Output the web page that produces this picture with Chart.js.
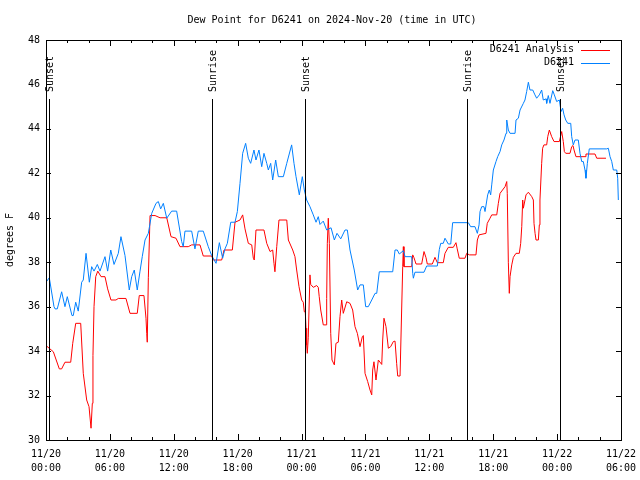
<!DOCTYPE html>
<html>
<head>
<meta charset="utf-8">
<script src="https://cdn.jsdelivr.net/npm/chart.js@4/dist/chart.umd.min.js"></script>
<style>
html,body{margin:0;padding:0;background:#fff;}
#wrap{width:640px;height:480px;}
</style>
</head>
<body>
<div id="wrap"><canvas id="c" width="640" height="480"></canvas></div>
<script>
// ---- data (hours since 11/20 00:00 UTC, degrees F) ----
const titleText = "Dew Point for D6241 on 2024-Nov-20 (time in UTC)";
const yAxisLabel = "degrees F";
const seriesNames = ["D6241 Analysis", "D6241"];

const xTickDates = ["11/20","11/20","11/20","11/20","11/21","11/21","11/21","11/21","11/22","11/22"];
const xTickTimes = ["00:00","06:00","12:00","18:00","00:00","06:00","12:00","18:00","00:00","06:00"];

const sunHours  = [0.28, 15.56, 24.35, 39.57, 48.27];
const sunLabels = ["Sunset","Sunrise","Sunset","Sunrise","Sunset"];

const analysisHours = [0.0,0.69,1.25,1.47,1.78,2.32,2.51,2.79,3.26,3.5,3.82,4.04,4.23,4.35,4.41,4.51,4.67,4.86,5.17,5.54,5.79,6.1,6.57,6.79,7.51,7.89,8.57,8.76,9.2,9.39,9.46,9.51,9.61,9.77,10.24,10.71,11.34,11.74,12.21,12.58,13.36,13.68,14.46,14.77,15.56,15.71,16.5,16.72,17.5,17.75,18.22,18.47,18.69,19.0,19.32,19.47,19.56,19.72,20.47,20.73,21.04,21.29,21.41,21.5,21.67,21.88,22.61,22.76,23.17,23.38,23.54,23.76,24.01,24.16,24.26,24.35,24.42,24.48,24.54,24.63,24.79,24.86,25.1,25.42,25.57,25.66,25.8,26.04,26.3,26.36,26.42,26.51,26.61,26.74,26.86,27.08,27.23,27.45,27.61,27.77,27.92,28.24,28.55,28.8,29.02,29.24,29.49,29.71,29.8,29.96,30.21,30.43,30.59,30.68,30.8,30.99,31.21,31.53,31.62,31.74,31.93,32.15,32.37,32.62,32.78,32.93,33.03,33.25,33.4,33.5,33.56,33.62,34.34,34.44,34.56,34.75,35.28,35.5,35.69,35.81,36.28,36.53,36.75,37.31,37.47,37.78,38.25,38.5,38.62,38.81,39.35,39.51,39.76,40.38,40.51,40.67,41.32,41.44,41.7,41.86,42.33,42.48,42.64,43.11,43.27,43.32,43.42,43.51,43.58,43.74,43.89,44.14,44.45,44.58,44.68,44.77,44.83,45.08,45.3,45.62,45.77,45.83,45.93,46.02,46.24,46.33,46.39,46.55,46.64,46.76,47.02,47.12,47.27,47.49,47.71,48.21,48.43,48.58,48.68,48.81,49.21,49.37,49.49,49.59,49.77,50.62,50.71,51.56,51.72,52.59];
const analysisValues = [34.25,33.97,33.2,33.2,33.5,33.5,34.35,35.25,35.25,33.0,31.8,31.5,30.53,31.65,33.8,36.0,37.35,37.6,37.35,37.35,36.8,36.3,36.3,36.37,36.37,35.7,35.7,36.5,36.5,35.48,34.8,34.4,37.3,40.1,40.1,40.0,40.0,39.15,39.08,38.7,38.7,38.78,38.78,38.28,38.28,38.1,38.1,38.55,38.55,39.8,39.9,40.13,39.5,38.85,38.78,38.18,38.1,39.45,39.45,38.85,38.48,38.55,37.95,37.57,38.7,39.9,39.9,39.0,38.55,38.25,37.65,36.9,36.3,36.2,35.77,35.77,35.03,34.28,33.9,34.6,37.43,37.0,36.87,36.95,36.87,36.45,35.85,35.18,35.18,36.37,38.85,39.98,38.85,34.8,33.6,33.38,34.35,34.4,35.55,36.3,35.7,36.22,36.15,35.85,35.1,34.8,34.2,34.65,34.7,33.0,32.63,32.25,32.03,33.15,33.52,32.7,33.6,33.4,34.5,35.48,35.1,34.13,34.2,34.43,34.45,33.45,32.88,32.88,35.85,37.8,38.7,37.8,37.8,38.33,38.2,37.92,37.92,38.48,38.2,37.92,37.92,38.22,37.98,37.98,38.4,38.67,38.67,38.88,38.6,38.18,38.18,38.4,38.33,38.33,39.0,39.23,39.3,39.75,39.98,40.13,40.13,40.65,41.1,41.4,41.63,41.1,38.0,36.6,37.35,37.88,38.22,38.4,38.4,38.85,39.6,40.8,40.43,41.03,41.15,40.95,40.8,39.75,39.3,39.0,39.0,39.68,40.8,42.45,43.13,43.28,43.28,43.65,43.95,43.65,43.43,43.43,43.88,43.43,42.98,42.9,42.9,43.2,43.25,43.05,42.75,42.75,42.87,42.87,42.68,42.68];

const stationHours = [0.0,0.31,0.75,0.85,1.06,1.47,1.78,2.0,2.44,2.56,2.79,3.03,3.35,3.5,3.76,4.07,4.29,4.51,4.82,5.07,5.54,5.79,6.08,6.39,6.79,7.04,7.42,7.82,8.05,8.29,8.57,8.83,9.04,9.3,9.61,9.93,10.33,10.55,10.77,11.02,11.34,11.8,12.27,12.74,12.89,13.05,13.68,13.99,14.3,14.77,15.24,15.56,15.97,16.28,16.59,16.81,17.03,17.35,17.75,17.97,18.22,18.47,18.75,19.0,19.22,19.53,19.72,20.0,20.26,20.47,20.73,20.88,21.1,21.29,21.57,21.82,22.29,22.61,23.07,23.29,23.48,23.79,24.07,24.26,24.48,24.79,25.1,25.36,25.57,25.73,26.04,26.36,26.77,27.08,27.33,27.68,28.08,28.3,28.55,28.95,29.27,29.49,29.8,30.02,30.27,30.59,30.9,31.06,31.3,32.56,32.78,32.99,33.18,33.56,33.72,34.34,34.44,34.5,34.65,35.5,35.75,36.75,36.94,37.07,37.31,37.47,37.78,38.01,38.19,39.66,39.88,40.29,40.51,40.67,40.76,40.92,41.13,41.23,41.48,41.63,41.76,41.86,42.01,42.26,42.42,42.64,42.8,43.01,43.2,43.27,43.42,43.58,44.05,44.14,44.36,44.52,44.83,44.98,45.14,45.3,45.45,45.71,45.92,46.08,46.33,46.55,46.7,46.96,47.02,47.17,47.33,47.59,47.74,47.96,48.21,48.37,48.52,48.65,48.81,49.0,49.28,49.37,49.52,49.68,49.99,50.15,50.31,50.46,50.62,50.71,50.84,51.02,52.66,52.81,52.97,53.13,53.28,53.6,53.69,53.75];
const stationValues = [37.1,37.3,36.0,35.9,35.9,36.67,36.0,36.45,35.6,35.6,36.2,35.8,37.1,37.2,38.4,37.1,37.8,37.6,37.9,37.6,38.25,37.6,38.55,37.9,38.4,39.15,38.3,36.75,37.35,37.65,36.75,37.6,38.25,39.0,39.3,40.2,40.65,40.73,40.4,40.65,39.98,40.3,40.3,38.93,38.7,39.4,39.4,38.6,39.4,39.4,38.7,38.3,37.95,38.88,38.18,38.6,38.85,39.8,39.8,40.28,41.55,42.9,43.35,42.68,42.45,43.05,42.6,43.05,42.3,42.9,42.45,42.15,42.45,41.7,42.6,41.85,41.85,42.45,43.28,42.45,41.85,41.03,41.85,41.25,40.8,40.5,40.13,39.8,40.05,39.7,39.85,39.45,39.55,39.0,39.3,39.05,39.45,39.45,38.55,37.65,36.75,36.98,36.98,36.0,36.0,36.3,36.6,36.6,37.57,37.57,38.55,38.55,38.37,38.52,38.25,38.25,37.5,37.28,37.55,37.55,37.83,37.83,38.58,38.85,38.85,39.08,38.82,38.82,39.78,39.78,39.6,39.6,39.3,39.68,40.28,40.5,40.5,40.28,41.03,41.25,41.03,41.48,42.15,42.53,42.75,42.98,43.28,43.5,43.8,44.4,43.95,43.8,43.8,44.4,44.48,44.85,45.15,45.3,45.68,46.1,45.75,45.75,45.53,45.38,45.53,45.75,45.3,45.35,45.15,45.5,45.15,45.72,45.53,45.23,45.3,44.78,44.93,44.63,44.4,44.25,44.25,43.65,43.28,43.5,43.5,42.9,42.53,42.53,42.15,41.78,42.45,43.1,43.1,43.13,42.75,42.53,42.15,42.15,41.78,40.8];

const colors = ["#ff0000", "#0080ff"];
const FONT = "DejaVu Sans Mono";

function toPoints(xs, ys){ return xs.map((x,i)=>({x:x, y:ys[i]})); }

const framePlugin = {
  id: 'frame',
  afterDatasetsDraw(chart){
    const ctx = chart.ctx, a = chart.chartArea;
    const xs = chart.scales.x, ys = chart.scales.y;
    ctx.save();
    // sun lines + labels
    ctx.strokeStyle = '#000'; ctx.lineWidth = 1;
    ctx.fillStyle = '#000';
    ctx.font = '10px "' + FONT + '"';
    sunHours.forEach((h,i)=>{
      const px = Math.round(xs.getPixelForValue(h)) + 0.5;
      ctx.beginPath(); ctx.moveTo(px, 99); ctx.lineTo(px, a.bottom); ctx.stroke();
      ctx.save();
      ctx.translate(px+1, 92);
      ctx.rotate(-Math.PI/2);
      ctx.textAlign = 'left'; ctx.textBaseline = 'middle';
      ctx.fillText(sunLabels[i], 0, 0);
      ctx.restore();
    });
    // border
    ctx.strokeStyle = '#000'; ctx.lineWidth = 1;
    ctx.strokeRect(Math.round(a.left)+0.5, Math.round(a.top)+0.5, Math.round(a.right-a.left), Math.round(a.bottom-a.top));
    // x ticks (major 6h, minor 2h), inward, top and bottom
    ctx.beginPath();
    for (let h = 0; h <= 54; h += 2){
      const px = Math.round(xs.getPixelForValue(h)) + 0.5;
      const len = (h % 6 === 0) ? 6 : 3;
      ctx.moveTo(px, a.bottom); ctx.lineTo(px, a.bottom - len);
      ctx.moveTo(px, a.top); ctx.lineTo(px, a.top + len);
    }
    for (let v = 30; v <= 48; v += 2){
      const py = Math.round(ys.getPixelForValue(v)) + 0.5;
      ctx.moveTo(a.left, py); ctx.lineTo(a.left + 5, py);
      ctx.moveTo(a.right, py); ctx.lineTo(a.right - 5, py);
    }
    ctx.stroke();
    // legend
    ctx.font = '10px "' + FONT + '"';
    ctx.textAlign = 'right'; ctx.textBaseline = 'middle';
    chart.data.datasets.forEach((ds,i)=>{
      const y = 49.5 + i*13;
      ctx.fillStyle = '#000';
      ctx.fillText(ds.label, 574, y);
      ctx.strokeStyle = ds.borderColor;
      ctx.beginPath(); ctx.moveTo(581, Math.round(y)+0.5); ctx.lineTo(610, Math.round(y)+0.5); ctx.stroke();
    });
    // title
    ctx.fillStyle = '#000';
    ctx.textAlign = 'center'; ctx.textBaseline = 'middle';
    ctx.fillText(titleText, 332, 20);
    ctx.restore();
  }
};

new Chart(document.getElementById('c'), {
  type: 'line',
  data: {
    datasets: [
      { label: seriesNames[0], data: toPoints(analysisHours, analysisValues), borderColor: colors[0], borderWidth: 1, pointRadius: 0, tension: 0, fill: false, order: 2 },
      { label: seriesNames[1], data: toPoints(stationHours, stationValues), borderColor: colors[1], borderWidth: 1, pointRadius: 0, tension: 0, fill: false, order: 1 }
    ]
  },
  options: {
    responsive: false,
    animation: false,
    devicePixelRatio: 1,
    layout: { padding: { top: 40, right: 19, left: 0, bottom: 0 } },
    plugins: { legend: { display: false }, title: { display: false }, tooltip: { enabled: false } },
    scales: {
      x: {
        type: 'linear', min: 0, max: 54,
        grid: { display: false, drawTicks: false },
        border: { display: false },
        afterFit(s){ s.height = 40; s.paddingLeft = 0; s.paddingRight = 0; },
        ticks: {
          stepSize: 6, autoSkip: false, maxRotation: 0, padding: 7,
          color: '#000', font: { family: FONT, size: 10, lineHeight: 1.4 },
          callback: (v) => { const i = Math.round(v/6); return [xTickDates[i], xTickTimes[i]]; }
        }
      },
      y: {
        type: 'linear', min: 30, max: 48,
        grid: { display: false, drawTicks: false },
        border: { display: false },
        afterFit(s){ s.width = 46; s.paddingTop = 0; s.paddingBottom = 0; },
        title: { display: true, text: yAxisLabel, color: '#000', font: { family: FONT, size: 10 }, padding: { top: 4, bottom: 0 } },
        ticks: { stepSize: 2, padding: 6, color: '#000', font: { family: FONT, size: 10 } }
      }
    }
  },
  plugins: [framePlugin]
});
</script>
</body>
</html>
